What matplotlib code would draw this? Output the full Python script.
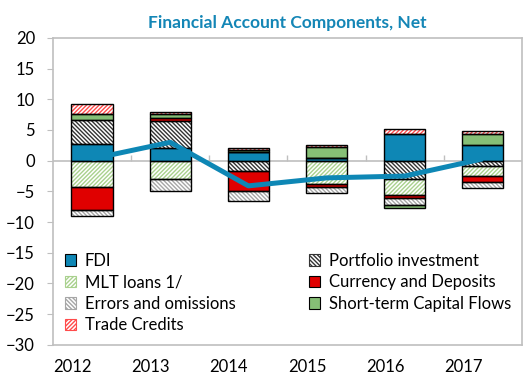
import matplotlib
matplotlib.use("Agg")
from matplotlib import pyplot as plt
from matplotlib.patches import Patch
import numpy as np

plt.rcParams["font.family"] = ["Lato", "DejaVu Sans"]
plt.rcParams["hatch.linewidth"] = 1.0

years = ["2012", "2013", "2014", "2015", "2016", "2017"]

# signed contributions, bn USD
fdi = [2.7, 2.0, 1.4, 0.4, 4.3, 2.5]
portfolio = [3.9, 4.5, -1.6, 0.0, -3.0, -0.8]
mlt_loans = [-4.3, -2.9, 0.0, -3.8, -2.6, -1.7]
currency = [-3.7, 0.5, -3.3, -0.5, -0.5, -1.0]
errors = [-1.0, -2.0, -1.6, -1.0, -1.1, -0.9]
short_term = [1.0, 0.6, 0.4, 1.8, -0.5, 1.8]
trade_credits = [1.7, 0.3, 0.3, 0.4, 0.9, 0.6]
net_flows = [0.3, 3.0, -4.1, -2.8, -2.5, 0.3]

BLUE = "#0E87B5"
# (name, values, face colour, hatch, hatch colour)
series = [
    ("FDI", fdi, BLUE, None, None),
    ("Portfolio investment", portfolio, "white", "\\" * 8, "#333333"),
    ("MLT loans 1/", mlt_loans, "white", "/" * 8, "#A9D18E"),
    ("Currency and Deposits", currency, "#E00000", None, None),
    ("Errors and omissions", errors, "white", "\\" * 8, "#A6A6A6"),
    ("Short-term Capital Flows", short_term, "#86BF76", None, None),
    ("Trade Credits", trade_credits, "white", "/" * 8, "#FF4B4B"),
]

fig = plt.figure(figsize=(5.25, 3.79), dpi=100)
ax = fig.add_axes([0.101, 0.09, 0.893, 0.81])

x = np.arange(len(years))
width = 0.53
pos_base = np.zeros(len(years))
neg_base = np.zeros(len(years))
handles = {}
for name, vals, face, hatch, hcol in series:
    vals = np.array(vals)
    bottom = np.where(vals >= 0, pos_base, neg_base)
    if hatch:
        ax.bar(x, vals, width, bottom=bottom, color=face, hatch=hatch,
               edgecolor=hcol, linewidth=0, zorder=2)
    else:
        ax.bar(x, vals, width, bottom=bottom, color=face, linewidth=0, zorder=2)
    ax.bar(x, vals, width, bottom=bottom, fill=False, edgecolor="black",
           linewidth=1.0, zorder=3)
    pos_base += np.clip(vals, 0, None)
    neg_base += np.clip(vals, None, 0)
    handles[name] = Patch(facecolor=face, hatch=hatch,
                          edgecolor=hcol if hatch else "black", linewidth=0.8)

# net financial account
ax.plot(x, net_flows, color=BLUE, linewidth=3.6, zorder=4, solid_capstyle="butt")

ax.axhline(0, color="#BFBFBF", linewidth=1.2, zorder=1)
ax.vlines(x[:-1] + 0.5, 0, 0.9, color="#BFBFBF", linewidth=1.0, zorder=1)

ax.set_xlim(-0.5, len(years) - 0.5)
ax.set_ylim(-30, 20)
ax.set_yticks(np.arange(-30, 21, 5))
ax.set_xticks(x - 0.25)
ax.set_xticklabels(years)
ax.tick_params(axis="x", length=0, labelsize=12, pad=10)
ax.tick_params(axis="y", length=4, color="#BFBFBF", labelsize=12, pad=9)
for s in ax.spines.values():
    s.set_color("#BFBFBF")
    s.set_linewidth(1.2)

ax.set_title("Financial Account Components, Net", color="#1486B6",
             fontweight="bold", fontsize=12.5, pad=7)

order = ["FDI", "MLT loans 1/", "Errors and omissions", "Trade Credits",
         "Portfolio investment", "Currency and Deposits", "Short-term Capital Flows"]
leg = ax.legend([handles[n] for n in order], order, ncol=2, loc="lower left",
                bbox_to_anchor=(0.0, 0.0), frameon=False, fontsize=12,
                handlelength=0.7, handleheight=0.7, handletextpad=0.5,
                columnspacing=4.4, labelspacing=0.33, borderaxespad=0.3)

fig.savefig("out.png", dpi=100)
